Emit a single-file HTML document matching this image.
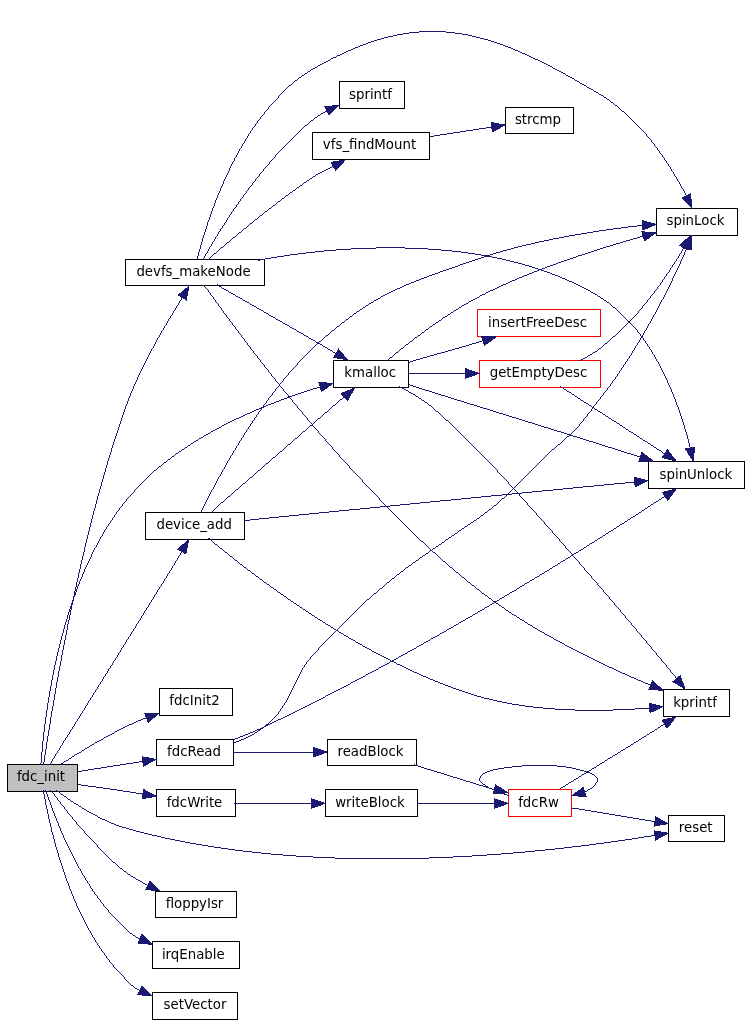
<!DOCTYPE html>
<html><head><meta charset="utf-8"><title>fdc_init call graph</title>
<style>html,body{margin:0;padding:0;background:#fff}svg{display:block;will-change:transform}</style></head>
<body>
<svg width="749" height="1024" viewBox="0 0 749 1024">
<rect width="749" height="1024" fill="#fff"/>
<g stroke-width="1" shape-rendering="crispEdges">
<rect x="7.5" y="764.5" width="70" height="27" fill="#bfbfbf" stroke="#000"/>
<rect x="125.5" y="259.5" width="139" height="26" fill="#fff" stroke="#000"/>
<rect x="339.5" y="81.5" width="65" height="27" fill="#fff" stroke="#000"/>
<rect x="312.5" y="132.5" width="117" height="27" fill="#fff" stroke="#000"/>
<rect x="505.5" y="107.5" width="68" height="26" fill="#fff" stroke="#000"/>
<rect x="656.5" y="208.5" width="81" height="27" fill="#fff" stroke="#000"/>
<rect x="333.5" y="360.5" width="75" height="27" fill="#fff" stroke="#000"/>
<rect x="477.5" y="309.5" width="123" height="27" fill="#fff" stroke="#ff0000"/>
<rect x="479.5" y="360.5" width="121" height="27" fill="#fff" stroke="#ff0000"/>
<rect x="648.5" y="461.5" width="96" height="27" fill="#fff" stroke="#000"/>
<rect x="145.5" y="512.5" width="99" height="27" fill="#fff" stroke="#000"/>
<rect x="663.5" y="689.5" width="66" height="27" fill="#fff" stroke="#000"/>
<rect x="159.5" y="688.5" width="73" height="27" fill="#fff" stroke="#000"/>
<rect x="156.5" y="739.5" width="77" height="26" fill="#fff" stroke="#000"/>
<rect x="327.5" y="739.5" width="89" height="26" fill="#fff" stroke="#000"/>
<rect x="156.5" y="789.5" width="79" height="27" fill="#fff" stroke="#000"/>
<rect x="325.5" y="789.5" width="92" height="27" fill="#fff" stroke="#000"/>
<rect x="508.5" y="789.5" width="63" height="27" fill="#fff" stroke="#ff0000"/>
<rect x="668.5" y="815.5" width="56" height="26" fill="#fff" stroke="#000"/>
<rect x="155.5" y="891.5" width="81" height="26" fill="#fff" stroke="#000"/>
<rect x="152.5" y="941.5" width="87" height="27" fill="#fff" stroke="#000"/>
<rect x="152.5" y="992.5" width="85" height="27" fill="#fff" stroke="#000"/>
</g>
<g fill="none" stroke="#191970" stroke-width="1" shape-rendering="crispEdges">
<path d="M43.5 762v3m1-10v7m1-13v6m1-13v7m1-13v6m1-12v6m1-12v6m1-13v7m1-13v6m1-11v5m1-11v6m1-12v6m1-12v6m1-12v6m1-11v5m1-11v6m1-11v5m1-10v5m1-11v6m1-11v5m1-10v5m1-10v5m1-10v5m1-10v5m1-11v6m1-10v4m1-9v5m1-10v5m1-10v5m1-9v4m1-9v5m1-10v5m1-9v4m1-9v5m1-9v4m1-9v5m1-9v4m1-9v5m1-9v4m1-8v4m1-8v4m1-9v5m1-9v4m1-8v4m1-8v4m1-8v4m1-8v4m1-8v4m1-8v4m1-8v4m1-8v4m1-7v3m1-7v4m1-8v4m1-8v4m1-7v3m1-7v4m1-7v3m1-7v4m1-7v3m1-7v4m1-7v3m1-7v4m1-7v3m1-7v4m1-7v3m1-6v3m1-6v3m1-7v4m1-7v3m1-6v3m1-6v3m1-6v3m1-6v3m1-6v3m1-6v3m1-6v3m1-6v3m1-6v3m1-6v3m1-6v3m1-6v3m1-6v3m1-5v2m1-5v3m1-6v3m1-5v2m1-5v3m1-5v2m1-4v2m1-5v3m1-5v2m1-4v2m1-4v2m1-5v3m1-5v2m1-4v2m1-4v2m1-4v2m1-4v2m1-4v2m1-4v2m1-4v2m1-4v2m1-4v2m1-4v2m1-4v2m1-4v2m1-4v2m.5-2.5h1m.5-2.5v2m1-4v2m1-4v2m1-4v2m1-4v2m.5-2.5h1m.5-2.5v2m1-4v2m1-4v2m.5-2.5h1m.5-2.5v2m1-4v2m.5-2.5h1m.5-2.5v2m1-4v2m1-4v2m.5-2.5h1m.5-2.5v2m.5-2.5h1m.5-2.5v2m1-4v2m.5-2.5h1m.5-2.5v2m1-4v2m.5-2.5h1m.5-2.5v2m1-4v2m.5-2.5h1m.5-2.5v2m.5-2.5h1"/>
<path d="M40.5 763v2m1-13v11m1-22v11m1-20v9m1-17v8m1-15v7m1-14v7m1-14v7m1-13v6m1-12v6m1-11v5m1-11v6m1-11v5m1-10v5m1-10v5m1-9v4m1-9v5m1-9v4m1-8v4m1-8v4m1-8v4m1-8v4m1-7v3m1-7v4m1-8v4m1-7v3m1-6v3m1-7v4m1-7v3m1-6v3m1-6v3m1-6v3m1-6v3m1-6v3m1-5v2m1-5v3m1-6v3m1-6v3m1-5v2m1-5v3m1-5v2m1-4v2m1-5v3m1-5v2m1-5v3m1-5v2m1-4v2m1-4v2m1-4v2m1-4v2m1-4v2m1-5v3m1-5v2m1-4v2m1-4v2m.5-2.5h1m.5-2.5v2m1-4v2m1-4v2m1-4v2m1-4v2m.5-2.5h1m.5-2.5v2m1-4v2m1-4v2m.5-2.5h1m.5-2.5v2m.5-2.5h1m.5-2.5v2m.5-2.5h1m.5-2.5v2m.5-2.5h1m.5-2.5v2m.5-2.5h1m.5-2.5v2m.5-2.5h1m.5-2.5v2m.5-2.5h1m0-1h1m.5-2.5v2m.5-2.5h1m0-1h1m.5-2.5v2m.5-2.5h1m0-1h1m0-1h1m.5-2.5v2m.5-2.5h1m0-1h1m0-1h1m0-1h1m0-1h1m0-1h1m0-1h1m.5-2.5v2m.5-2.5h1m0-1h1m0-1h1m0-1h1m0-1h1m0-1h1m0-1h1m0-1h1m0-1h1m0-1h1m0-1h1m0-1h1m0-1h1m0-1h1m0-1h1m0-1h1m0-1h1m0-1h1m0-1h1m0-1h2m0-1h1m0-1h1m0-1h1m0-1h2m0-1h1m0-1h1m0-1h1m0-1h2m0-1h1m0-1h1m0-1h2m0-1h1m0-1h1m0-1h2m0-1h1m0-1h1m0-1h2m0-1h1m0-1h2m0-1h1m0-1h2m0-1h1m0-1h2m0-1h1m0-1h2m0-1h1m0-1h2m0-1h1m0-1h2m0-1h2m0-1h1m0-1h2m0-1h2m0-1h1m0-1h2m0-1h2m0-1h2m0-1h1m0-1h2m0-1h2m0-1h2m0-1h2m0-1h2m0-1h1m0-1h2m0-1h2m0-1h2m0-1h2m0-1h2m0-1h2m0-1h2m0-1h3m0-1h2m0-1h2m0-1h2m0-1h2m0-1h3m0-1h2m0-1h2m0-1h2m0-1h3m0-1h2m0-1h3m0-1h2m0-1h2m0-1h3m0-1h3m0-1h2m0-1h3m0-1h2m0-1h3m0-1h3m0-1h2m0-1h3m0-1h3m0-1h3m0-1h3m0-1h3m0-1h3m0-1h3m0-1h3m0-1h4m0-1h4"/>
<path d="M49 764.5h1m0-1h1m.5-2.5v2m1-4v2m.5-2.5h1m.5-2.5v2m1-4v2m.5-2.5h1m.5-2.5v2m.5-2.5h1m.5-2.5v2m1-4v2m.5-2.5h1m.5-2.5v2m1-4v2m.5-2.5h1m.5-2.5v2m.5-2.5h1m.5-2.5v2m.5-2.5h1m.5-2.5v2m1-4v2m.5-2.5h1m.5-2.5v2m.5-2.5h1m.5-2.5v2m1-4v2m.5-2.5h1m.5-2.5v2m.5-2.5h1m.5-2.5v2m1-4v2m.5-2.5h1m.5-2.5v2m.5-2.5h1m.5-2.5v2m1-4v2m.5-2.5h1m.5-2.5v2m1-4v2m.5-2.5h1m.5-2.5v2m.5-2.5h1m.5-2.5v2m1-4v2m.5-2.5h1m.5-2.5v2m.5-2.5h1m.5-2.5v2m1-4v2m.5-2.5h1m.5-2.5v2m.5-2.5h1m.5-2.5v2m1-4v2m.5-2.5h1m.5-2.5v2m.5-2.5h1m.5-2.5v2m1-4v2m.5-2.5h1m.5-2.5v2m.5-2.5h1m.5-2.5v2m1-4v2m.5-2.5h1m.5-2.5v2m.5-2.5h1m.5-2.5v2m1-4v2m.5-2.5h1m.5-2.5v2m1-4v2m.5-2.5h1m.5-2.5v2m.5-2.5h1m.5-2.5v2m1-4v2m.5-2.5h1m.5-2.5v2m.5-2.5h1m.5-2.5v2m1-4v2m.5-2.5h1m.5-2.5v2m.5-2.5h1m.5-2.5v2m1-4v2m.5-2.5h1m.5-2.5v2m.5-2.5h1m.5-2.5v2m1-4v2m.5-2.5h1m.5-2.5v2m1-4v2m.5-2.5h1m.5-2.5v2m.5-2.5h1m.5-2.5v2m1-4v2m.5-2.5h1m.5-2.5v2m.5-2.5h1m.5-2.5v2m1-4v2m.5-2.5h1m.5-2.5v2m1-4v2m.5-2.5h1m.5-2.5v2m.5-2.5h1m.5-2.5v2m.5-2.5h1m.5-2.5v2m1-4v2m.5-2.5h1m.5-2.5v2m1-4v2m.5-2.5h1m.5-2.5v2m.5-2.5h1m.5-2.5v2m1-4v2m.5-2.5h1m.5-2.5v2m1-4v2m.5-2.5h1m.5-2.5v2m1-4v2m.5-2.5h1m.5-2.5v2m1-4v2"/>
<path d="M60 764.5h1m0-1h2m0-1h1m0-1h2m0-1h2m0-1h1m0-1h2m0-1h1m0-1h2m0-1h1m0-1h2m0-1h2m0-1h2m0-1h1m0-1h2m0-1h1m0-1h2m0-1h2m0-1h1m0-1h2m0-1h2m0-1h1m0-1h2m0-1h2m0-1h2m0-1h2m0-1h1m0-1h2m0-1h2m0-1h2m0-1h2m0-1h2m0-1h1m0-1h2m0-1h2m0-1h2m0-1h2m0-1h2m0-1h2m0-1h2m0-1h3m0-1h2m0-1h2m0-1h2m0-1h3m0-1h2m0-1h4"/>
<path d="M78 771.5h4m0-1h6m0-1h6m0-1h7m0-1h6m0-1h6m0-1h7m0-1h6m0-1h7m0-1h6m0-1h4"/>
<path d="M56 790.5h1m0 1h2m0 1h1m0 1h1m0 1h2m0 1h1m0 1h2m0 1h1m0 1h1m0 1h2m0 1h1m0 1h2m0 1h1m0 1h2m0 1h2m0 1h1m0 1h2m0 1h1m0 1h2m0 1h2m0 1h1m0 1h2m0 1h2m0 1h2m0 1h2m0 1h2m0 1h1m0 1h2m0 1h2m0 1h3m0 1h2m0 1h2m0 1h2m0 1h3m0 1h2m0 1h3m0 1h3m0 1h4m0 1h3m0 1h4m0 1h3m0 1h4m0 1h4m0 1h4m0 1h4m0 1h5m0 1h4m0 1h4m0 1h5m0 1h5m0 1h5m0 1h5m0 1h5m0 1h6m0 1h6m0 1h6m0 1h6m0 1h7m0 1h7m0 1h7m0 1h8m0 1h9m0 1h9m0 1h10m0 1h12m0 1h13m0 1h17m0 1h22m0 1h94m0-1h24m0-1h19m0-1h15m0-1h14m0-1h12m0-1h12m0-1h10m0-1h10m0-1h10m0-1h9m0-1h8m0-1h9m0-1h8m0-1h7m0-1h8m0-1h7m0-1h7m0-1h7m0-1h7m0-1h6m0-1h6m0-1h7m0-1h4"/>
<path d="M78 784.5h3m0 1h7m0 1h8m0 1h7m0 1h7m0 1h7m0 1h6m0 1h7m0 1h6m0 1h6m0 1h1"/>
<path d="M50 790.5h1m0 1h1m0 1h1m0 1h1m.5 .5v2m.5 .5h1m0 1h1m.5 .5v2m.5 .5h1m0 1h1m.5 .5v2m.5 .5h1m0 1h1m0 1h1m.5 .5v2m.5 .5h1m0 1h1m.5 .5v2m.5 .5h1m0 1h1m0 1h1m0 1h1m.5 .5v2m.5 .5h1m0 1h1m0 1h1m.5 .5v2m.5 .5h1m0 1h1m0 1h1m0 1h1m0 1h1m0 1h1m0 1h1m.5 .5v2m.5 .5h1m0 1h1m0 1h1m0 1h1m0 1h1m0 1h1m0 1h1m0 1h1m0 1h1m0 1h1m0 1h1m0 1h1m.5 .5v2m.5 .5h1m0 1h1m0 1h1m0 1h1m0 1h1m0 1h1m0 1h1m0 1h1m0 1h1m0 1h1m0 1h1m0 1h1m0 1h1m0 1h1m0 1h1m0 1h2m0 1h1m0 1h1m0 1h1m0 1h1m0 1h1m0 1h2m0 1h1m0 1h1m0 1h2m0 1h1m0 1h1m0 1h2m0 1h1m0 1h2m0 1h2m0 1h1m0 1h2m0 1h2m0 1h2m0 1h1m0 1h2m0 1h2m0 1h1"/>
<path d="M45 790.5h1m.5 .5v3m1 0v3m1 0v3m1 0v2m1 0v3m1 0v3m1 0v3m1 0v2m1 0v3m1 0v2m1 0v3m1 0v2m1 0v3m1 0v2m1 0v3m1 0v2m1 0v2m1 0v3m1 0v2m1 0v2m1 0v2m1 0v2m1 0v2m1 0v2m1 0v2m1 0v2m1 0v2m1 0v2m1 0v2m1 0v2m1 0v2m1 0v2m1 0v2m.5 .5h1m.5 .5v2m1 0v2m1 0v2m.5 .5h1m.5 .5v2m1 0v2m.5 .5h1m.5 .5v2m.5 .5h1m.5 .5v2m1 0v2m.5 .5h1m.5 .5v2m.5 .5h1m.5 .5v2m.5 .5h1m0 1h1m.5 .5v2m.5 .5h1m0 1h1m.5 .5v2m.5 .5h1m0 1h1m.5 .5v2m.5 .5h1m0 1h1m0 1h1m0 1h1m.5 .5v2m.5 .5h1m0 1h1m0 1h1m0 1h1m0 1h1m0 1h1m0 1h1m0 1h1m0 1h1m0 1h1m0 1h1m0 1h1m0 1h1m0 1h1m0 1h1m0 1h1m0 1h1m0 1h1m0 1h1m0 1h1m0 1h1m0 1h2m0 1h1m0 1h2m0 1h1m0 1h2m0 1h2"/>
<path d="M43.5 790v4m1 0v5m1 0v6m1 0v4m1 0v5m1 0v5m1 0v4m1 0v4m1 0v5m1 0v3m1 0v4m1 0v4m1 0v4m1 0v3m1 0v3m1 0v4m1 0v3m1 0v3m1 0v3m1 0v3m1 0v3m1 0v3m1 0v3m1 0v3m1 0v2m1 0v3m1 0v3m1 0v2m1 0v3m1 0v2m1 0v3m1 0v2m1 0v2m1 0v3m1 0v2m1 0v2m1 0v2m1 0v2m1 0v2m1 0v2m1 0v2m1 0v2m1 0v2m1 0v2m1 0v2m1 0v2m.5 .5h1m.5 .5v2m1 0v2m1 0v2m.5 .5h1m.5 .5v2m1 0v2m.5 .5h1m.5 .5v2m.5 .5h1m.5 .5v2m.5 .5h1m.5 .5v2m.5 .5h1m0 1h1m.5 .5v2m.5 .5h1m.5 .5v2m.5 .5h1m0 1h1m.5 .5v2m.5 .5h1m0 1h1m0 1h1m.5 .5v2m.5 .5h1m0 1h1m0 1h1m0 1h1m0 1h1m0 1h1m0 1h1m0 1h1m0 1h1m0 1h1m.5 .5v2m.5 .5h1m0 1h1m0 1h1m0 1h1m0 1h1m0 1h1m0 1h2m0 1h1m0 1h1m0 1h2m0 1h2m0 1h1"/>
<path d="M217 284.5h1m0 1h1m0 1h2m0 1h1m0 1h2m0 1h2m0 1h2m0 1h1m0 1h2m0 1h2m0 1h2m0 1h1m0 1h2m0 1h2m0 1h2m0 1h1m0 1h2m0 1h2m0 1h2m0 1h1m0 1h2m0 1h2m0 1h2m0 1h1m0 1h2m0 1h2m0 1h2m0 1h1m0 1h2m0 1h2m0 1h1m0 1h2m0 1h2m0 1h2m0 1h1m0 1h2m0 1h2m0 1h2m0 1h1m0 1h2m0 1h2m0 1h2m0 1h1m0 1h2m0 1h2m0 1h2m0 1h1m0 1h2m0 1h2m0 1h2m0 1h1m0 1h2m0 1h2m0 1h1m0 1h2m0 1h2m0 1h2m0 1h1m0 1h2m0 1h2m0 1h2m0 1h1m0 1h2m0 1h2m0 1h1m0 1h2m0 1h2m0 1h1m0 1h2m0 1h1"/>
<path d="M197.5 256v3m1-7v4m1-7v3m1-7v4m1-7v3m1-7v4m1-7v3m1-6v3m1-6v3m1-6v3m1-7v4m1-6v2m1-5v3m1-6v3m1-6v3m1-6v3m1-5v2m1-5v3m1-6v3m1-5v2m1-5v3m1-5v2m1-4v2m1-5v3m1-5v2m1-4v2m1-5v3m1-5v2m1-4v2m1-4v2m1-4v2m1-4v2m1-5v3m1-5v2m1-4v2m1-4v2m.5-2.5h1m.5-3.5v3m.5-3.5h1m.5-2.5v2m1-4v2m1-4v2m1-4v2m.5-2.5h1m.5-2.5v2m1-4v2m.5-2.5h1m.5-2.5v2m1-4v2m.5-2.5h1m.5-2.5v2m1-4v2m.5-2.5h1m.5-2.5v2m.5-2.5h1m.5-2.5v2m.5-2.5h1m0-1h1m.5-2.5v2m.5-2.5h1m.5-2.5v2m.5-2.5h1m0-1h1m.5-2.5v2m.5-2.5h1m0-1h1m0-1h1m.5-2.5v2m.5-2.5h1m0-1h1m0-1h1m.5-2.5v2m.5-2.5h1m0-1h1m0-1h1m0-1h1m0-1h1m0-1h1m0-1h1m0-1h1m0-1h1m.5-2.5v2m.5-2.5h1m0-1h1m0-1h1m0-1h1m0-1h1m0-1h1m0-1h1m0-1h1m0-1h1m0-1h1m0-1h2m0-1h1m0-1h1m0-1h1m0-1h1m0-1h2m0-1h1m0-1h1m0-1h2m0-1h1m0-1h2m0-1h1m0-1h2m0-1h1m0-1h2m0-1h1m0-1h2m0-1h2m0-1h2m0-1h1m0-1h2m0-1h2m0-1h2m0-1h2m0-1h2m0-1h2m0-1h1m0-1h2m0-1h3m0-1h1m0-1h3m0-1h2m0-1h2m0-1h2m0-1h2m0-1h3m0-1h2m0-1h2m0-1h3m0-1h2m0-1h3m0-1h3m0-1h2m0-1h3m0-1h3m0-1h3m0-1h4m0-1h3m0-1h4m0-1h5m0-1h4m0-1h6m0-1h6m0-1h10m0-1h27m0 1h9m0 1h7m0 1h6m0 1h4m0 1h4m0 1h4m0 1h4m0 1h4m0 1h3m0 1h3m0 1h3m0 1h3m0 1h3m0 1h2m0 1h3m0 1h3m0 1h2m0 1h2m0 1h3m0 1h2m0 1h2m0 1h3m0 1h2m0 1h2m0 1h2m0 1h2m0 1h2m0 1h3m0 1h2m0 1h2m0 1h2m0 1h2m0 1h2m0 1h2m0 1h2m0 1h1m0 1h2m0 1h2m0 1h2m0 1h2m0 1h2m0 1h2m0 1h1m0 1h2m0 1h2m0 1h2m0 1h2m0 1h1m0 1h2m0 1h2m0 1h1m0 1h2m0 1h2m0 1h2m0 1h1m0 1h2m0 1h2m0 1h2m0 1h1m0 1h2m0 1h2m0 1h1m0 1h2m0 1h2m0 1h1m0 1h2m0 1h1m0 1h2m0 1h1m0 1h1m0 1h2m0 1h1m0 1h1m0 1h2m0 1h1m0 1h1m0 1h1m0 1h1m0 1h1m0 1h2m0 1h1m0 1h1m0 1h1m0 1h1m0 1h1m0 1h1m0 1h1m0 1h1m0 1h1m0 1h1m0 1h1m0 1h1m0 1h1m0 1h1m0 1h1m0 1h1m0 1h1m0 1h1m0 1h1m0 1h1m0 1h1m0 1h1m.5 .5v2m.5 .5h1m0 1h1m0 1h1m0 1h1m.5 .5v2m.5 .5h1m0 1h1m.5 .5v2m.5 .5h1m0 1h1m.5 .5v2m.5 .5h1m.5 .5v2m.5 .5h1m0 1h1m.5 .5v2m.5 .5h1m.5 .5v2m.5 .5h1m.5 .5v2m.5 .5h1m.5 .5v2m.5 .5h1m.5 .5v2m1 0v2m.5 .5h1m.5 .5v2m1 0v2m.5 .5h1m.5 .5v2m1 0v2m.5 .5h1m.5 .5v2m1 0v2m1 0v2m.5 .5h1m.5 .5v2m1 0v2m1 0v2m.5 .5h1"/>
<path d="M258 260.5h2m0-1h5m0-1h6m0-1h6m0-1h7m0-1h6m0-1h8m0-1h8m0-1h9m0-1h9m0-1h12m0-1h15m0-1h25m0-1h29m0 1h23m0 1h13m0 1h11m0 1h9m0 1h7m0 1h7m0 1h6m0 1h6m0 1h5m0 1h5m0 1h5m0 1h4m0 1h4m0 1h4m0 1h4m0 1h4m0 1h3m0 1h4m0 1h3m0 1h3m0 1h3m0 1h3m0 1h3m0 1h3m0 1h3m0 1h2m0 1h3m0 1h3m0 1h2m0 1h2m0 1h3m0 1h2m0 1h2m0 1h3m0 1h2m0 1h2m0 1h2m0 1h2m0 1h2m0 1h2m0 1h2m0 1h2m0 1h2m0 1h1m0 1h2m0 1h2m0 1h2m0 1h1m0 1h2m0 1h1m0 1h2m0 1h1m0 1h2m0 1h1m0 1h2m0 1h1m0 1h1m0 1h1m0 1h1m0 1h2m0 1h1m0 1h1m0 1h1m0 1h1m0 1h1m0 1h1m0 1h1m0 1h1m0 1h1m0 1h1m0 1h1m0 1h1m0 1h1m0 1h1m0 1h1m0 1h1m0 1h1m0 1h1m0 1h1m0 1h1m0 1h1m0 1h1m.5 .5v2m.5 .5h1m0 1h1m.5 .5v2m.5 .5h1m0 1h1m.5 .5v2m.5 .5h1m.5 .5v2m.5 .5h1m.5 .5v2m.5 .5h1m.5 .5v2m.5 .5h1m.5 .5v2m1 0v2m.5 .5h1m.5 .5v2m1 0v2m1 0v2m.5 .5h1m.5 .5v2m1 0v2m1 0v2m1 0v2m1 0v2m1 0v2m1 0v2m1 0v2m1 0v2m1 0v3m1 0v2m1 0v2m1 0v2m1 0v3m1 0v2m1 0v3m1 0v2m1 0v3m1 0v3m1 0v2m1 0v3m1 0v3m1 0v3m1 0v3m1 0v3m1 0v3m1 0v4m1 0v3m1 0v3m1 0v4m1 0v4m1 0v4m1 0v2"/>
<path d="M203 285.5h1m0 1h1m0 1h1m0 1h1m0 1h1m.5 .5v2m.5 .5h1m.5 .5v2m.5 .5h1m0 1h1m.5 .5v2m.5 .5h1m.5 .5v2m.5 .5h1m0 1h1m.5 .5v2m.5 .5h1m0 1h1m.5 .5v2m.5 .5h1m.5 .5v2m.5 .5h1m0 1h1m.5 .5v2m.5 .5h1m0 1h1m.5 .5v2m.5 .5h1m0 1h1m.5 .5v2m.5 .5h1m0 1h1m.5 .5v2m.5 .5h1m0 1h1m.5 .5v2m.5 .5h1m0 1h1m.5 .5v2m.5 .5h1m0 1h1m.5 .5v2m.5 .5h1m0 1h1m.5 .5v2m.5 .5h1m0 1h1m.5 .5v2m.5 .5h1m0 1h1m.5 .5v2m.5 .5h1m0 1h1m0 1h1m.5 .5v2m.5 .5h1m0 1h1m.5 .5v2m.5 .5h1m0 1h1m0 1h1m.5 .5v2m.5 .5h1m0 1h1m0 1h1m.5 .5v2m.5 .5h1m0 1h1m.5 .5v2m.5 .5h1m0 1h1m0 1h1m.5 .5v2m.5 .5h1m0 1h1m0 1h1m.5 .5v2m.5 .5h1m0 1h1m0 1h1m.5 .5v2m.5 .5h1m0 1h1m0 1h1m0 1h1m.5 .5v2m.5 .5h1m0 1h1m0 1h1m.5 .5v2m.5 .5h1m0 1h1m0 1h1m0 1h1m.5 .5v2m.5 .5h1m0 1h1m0 1h1m0 1h1m.5 .5v2m.5 .5h1m0 1h1m0 1h1m0 1h1m.5 .5v2m.5 .5h1m0 1h1m0 1h1m0 1h1m.5 .5v2m.5 .5h1m0 1h1m0 1h1m0 1h1m0 1h1m.5 .5v2m.5 .5h1m0 1h1m0 1h1m0 1h1m0 1h1m0 1h1m.5 .5v2m.5 .5h1m0 1h1m0 1h1m0 1h1m0 1h1m0 1h1m.5 .5v2m.5 .5h1m0 1h1m0 1h1m0 1h1m0 1h1m0 1h1m.5 .5v2m.5 .5h1m0 1h1m0 1h1m0 1h1m0 1h1m0 1h1m0 1h1m0 1h1m0 1h1m.5 .5v2m.5 .5h1m0 1h1m0 1h1m0 1h1m0 1h1m0 1h1m0 1h1m0 1h1m0 1h1m0 1h1m0 1h1m0 1h1m.5 .5v2m.5 .5h1m0 1h1m0 1h1m0 1h1m0 1h1m0 1h1m0 1h1m0 1h1m0 1h1m0 1h1m0 1h1m0 1h1m0 1h1m0 1h1m0 1h1m0 1h1m.5 .5v2m.5 .5h1m0 1h1m0 1h1m0 1h1m0 1h1m0 1h1m0 1h1m0 1h1m0 1h1m0 1h1m0 1h1m0 1h1m0 1h1m0 1h1m0 1h1m0 1h1m0 1h1m0 1h1m0 1h1m0 1h1m0 1h1m0 1h1m0 1h1m0 1h1m0 1h1m0 1h1m0 1h1m0 1h1m0 1h1m0 1h1m0 1h1m0 1h1m0 1h1m0 1h1m0 1h1m0 1h1m0 1h1m0 1h1m0 1h1m0 1h1m0 1h1m0 1h2m0 1h1m0 1h1m0 1h1m0 1h1m0 1h1m0 1h1m0 1h1m0 1h1m0 1h1m0 1h1m0 1h2m0 1h1m0 1h1m0 1h1m0 1h1m0 1h1m0 1h1m0 1h1m0 1h1m0 1h2m0 1h1m0 1h1m0 1h1m0 1h1m0 1h1m0 1h2m0 1h1m0 1h1m0 1h1m0 1h1m0 1h2m0 1h1m0 1h1m0 1h1m0 1h1m0 1h2m0 1h1m0 1h1m0 1h1m0 1h1m0 1h2m0 1h1m0 1h1m0 1h2m0 1h1m0 1h1m0 1h1m0 1h2m0 1h1m0 1h1m0 1h1m0 1h2m0 1h1m0 1h2m0 1h1m0 1h1m0 1h2m0 1h1m0 1h1m0 1h2m0 1h1m0 1h2m0 1h1m0 1h2m0 1h1m0 1h2m0 1h1m0 1h1m0 1h2m0 1h1m0 1h2m0 1h1m0 1h2m0 1h2m0 1h1m0 1h2m0 1h1m0 1h2m0 1h2m0 1h1m0 1h2m0 1h1m0 1h2m0 1h2m0 1h1m0 1h2m0 1h2m0 1h1m0 1h2m0 1h2m0 1h2m0 1h1m0 1h2m0 1h2m0 1h2m0 1h2m0 1h1m0 1h2m0 1h2m0 1h2m0 1h2m0 1h2m0 1h1m0 1h2m0 1h2m0 1h2m0 1h2m0 1h2m0 1h2m0 1h2m0 1h2m0 1h2m0 1h2m0 1h2m0 1h2m0 1h2m0 1h2m0 1h2m0 1h2m0 1h2m0 1h2m0 1h2m0 1h2m0 1h2m0 1h2m0 1h3m0 1h2m0 1h2m0 1h2m0 1h2m0 1h2m0 1h3m0 1h2m0 1h2m0 1h2m0 1h3m0 1h2m0 1h2m0 1h3m0 1h2m0 1h2m0 1h3m0 1h3"/>
<path d="M202 259.5h1m0-1h1m.5-2.5v2m1-4v2m.5-2.5h1m.5-2.5v2m1-4v2m1-4v2m.5-2.5h1m.5-2.5v2m1-4v2m.5-2.5h1m.5-2.5v2m1-4v2m.5-2.5h1m.5-2.5v2m1-4v2m.5-2.5h1m.5-2.5v2m.5-2.5h1m.5-2.5v2m.5-2.5h1m.5-2.5v2m.5-2.5h1m.5-2.5v2m1-4v2m.5-2.5h1m.5-2.5v2m.5-2.5h1m.5-2.5v2m.5-2.5h1m.5-2.5v2m.5-2.5h1m0-1h1m.5-2.5v2m.5-2.5h1m.5-2.5v2m.5-2.5h1m.5-2.5v2m.5-2.5h1m0-1h1m.5-2.5v2m.5-2.5h1m0-1h1m.5-2.5v2m.5-2.5h1m.5-2.5v2m.5-2.5h1m0-1h1m0-1h1m.5-2.5v2m.5-2.5h1m0-1h1m.5-2.5v2m.5-2.5h1m0-1h1m0-1h1m.5-2.5v2m.5-2.5h1m0-1h1m0-1h1m.5-2.5v2m.5-2.5h1m0-1h1m0-1h1m0-1h1m0-1h1m.5-2.5v2m.5-2.5h1m0-1h1m0-1h1m0-1h1m0-1h1m.5-2.5v2m.5-2.5h1m0-1h1m0-1h1m0-1h1m0-1h1m0-1h1m0-1h1m0-1h1m0-1h1m0-1h1m0-1h1m0-1h1m0-1h1m0-1h1m0-1h1m0-1h1m0-1h1m0-1h1m0-1h1m0-1h1m0-1h1m0-1h1m0-1h1m0-1h1m0-1h1m0-1h1m0-1h1m0-1h1m0-1h1m0-1h2m0-1h1m0-1h1m0-1h1m0-1h1m0-1h2m0-1h1m0-1h1m0-1h2m0-1h1m0-1h2m0-1h1m0-1h2m0-1h2m0-1h2"/>
<path d="M208 259.5h1m0-1h1m0-1h1m0-1h1m0-1h1m0-1h1m0-1h2m0-1h1m0-1h1m0-1h1m0-1h1m0-1h1m0-1h2m0-1h1m0-1h1m0-1h1m0-1h1m0-1h2m0-1h1m0-1h1m0-1h1m0-1h1m0-1h2m0-1h1m0-1h1m0-1h1m0-1h1m0-1h2m0-1h1m0-1h1m0-1h1m0-1h2m0-1h1m0-1h1m0-1h1m0-1h1m0-1h2m0-1h1m0-1h1m0-1h1m0-1h2m0-1h1m0-1h1m0-1h1m0-1h2m0-1h1m0-1h1m0-1h1m0-1h2m0-1h1m0-1h1m0-1h2m0-1h1m0-1h1m0-1h2m0-1h1m0-1h1m0-1h1m0-1h2m0-1h1m0-1h1m0-1h2m0-1h1m0-1h1m0-1h2m0-1h1m0-1h1m0-1h2m0-1h1m0-1h2m0-1h1m0-1h1m0-1h2m0-1h1m0-1h2m0-1h1m0-1h1m0-1h2m0-1h1m0-1h2m0-1h1m0-1h2m0-1h1m0-1h2m0-1h1m0-1h2m0-1h2m0-1h2m0-1h2m0-1h2m0-1h2m0-1h2m0-1h2m0-1h2"/>
<path d="M409 373.5h57"/>
<path d="M387 360.5h1m0-1h1m0-1h1m0-1h2m0-1h1m0-1h1m0-1h1m0-1h1m0-1h2m0-1h1m0-1h1m0-1h1m0-1h2m0-1h1m0-1h1m0-1h1m0-1h2m0-1h1m0-1h1m0-1h2m0-1h1m0-1h1m0-1h1m0-1h2m0-1h1m0-1h2m0-1h1m0-1h1m0-1h2m0-1h1m0-1h1m0-1h2m0-1h1m0-1h1m0-1h2m0-1h1m0-1h2m0-1h1m0-1h2m0-1h1m0-1h2m0-1h1m0-1h1m0-1h2m0-1h2m0-1h1m0-1h2m0-1h1m0-1h2m0-1h1m0-1h2m0-1h2m0-1h1m0-1h2m0-1h1m0-1h2m0-1h2m0-1h2m0-1h1m0-1h2m0-1h2m0-1h2m0-1h2m0-1h2m0-1h1m0-1h2m0-1h3m0-1h1m0-1h2m0-1h2m0-1h3m0-1h2m0-1h2m0-1h2m0-1h2m0-1h2m0-1h3m0-1h2m0-1h2m0-1h2m0-1h3m0-1h2m0-1h2m0-1h3m0-1h2m0-1h3m0-1h2m0-1h3m0-1h2m0-1h3m0-1h2m0-1h3m0-1h3m0-1h2m0-1h3m0-1h3m0-1h3m0-1h2m0-1h3m0-1h3m0-1h3m0-1h3m0-1h3m0-1h3m0-1h2m0-1h4m0-1h3m0-1h3m0-1h3m0-1h3m0-1h3m0-1h3m0-1h3m0-1h3m0-1h4m0-1h3m0-1h3m0-1h4m0-1h3m0-1h3m0-1h4m0-1h3m0-1h4m0-1h3m0-1h3"/>
<path d="M409 384.5h1m0 1h3m0 1h3m0 1h3m0 1h3m0 1h3m0 1h4m0 1h3m0 1h3m0 1h3m0 1h3m0 1h4m0 1h3m0 1h3m0 1h3m0 1h3m0 1h4m0 1h3m0 1h3m0 1h3m0 1h4m0 1h3m0 1h3m0 1h3m0 1h4m0 1h3m0 1h3m0 1h3m0 1h3m0 1h4m0 1h3m0 1h3m0 1h3m0 1h4m0 1h3m0 1h3m0 1h3m0 1h3m0 1h4m0 1h3m0 1h3m0 1h3m0 1h3m0 1h4m0 1h3m0 1h3m0 1h3m0 1h4m0 1h3m0 1h3m0 1h3m0 1h3m0 1h4m0 1h3m0 1h3m0 1h3m0 1h3m0 1h4m0 1h3m0 1h3m0 1h3m0 1h3m0 1h3m0 1h4m0 1h3m0 1h3m0 1h3m0 1h3m0 1h3m0 1h4m0 1h3m0 1h3m0 1h4"/>
<path d="M409 362.5h1m0-1h3m0-1h3m0-1h4m0-1h3m0-1h4m0-1h3m0-1h4m0-1h3m0-1h4m0-1h4m0-1h3m0-1h4m0-1h3m0-1h4m0-1h3m0-1h4m0-1h3m0-1h3m0-1h4m0-1h3m0-1h3m0-1h2"/>
<path d="M399 386.5h1m0 1h2m0 1h2m0 1h2m0 1h2m0 1h1m0 1h2m0 1h2m0 1h2m0 1h1m0 1h2m0 1h1m0 1h2m0 1h1m0 1h2m0 1h1m0 1h2m0 1h1m0 1h1m0 1h2m0 1h1m0 1h1m0 1h1m0 1h1m0 1h1m0 1h2m0 1h1m0 1h1m0 1h1m0 1h1m0 1h1m0 1h1m0 1h1m0 1h1m0 1h2m0 1h1m0 1h1m0 1h1m0 1h1m0 1h1m0 1h1m0 1h1m0 1h1m0 1h1m0 1h1m0 1h1m0 1h1m0 1h1m0 1h1m0 1h1m0 1h1m0 1h1m0 1h1m0 1h1m0 1h1m0 1h1m0 1h1m0 1h1m0 1h1m0 1h1m0 1h1m0 1h1m0 1h1m0 1h1m0 1h1m0 1h1m0 1h1m0 1h1m0 1h1m0 1h1m0 1h1m0 1h1m0 1h1m0 1h1m0 1h1m0 1h1m0 1h1m0 1h1m0 1h1m0 1h1m0 1h1m0 1h1m0 1h1m0 1h1m.5 .5v2m.5 .5h1m0 1h1m0 1h1m0 1h1m0 1h1m0 1h1m0 1h1m0 1h1m0 1h1m0 1h1m.5 .5v2m.5 .5h1m0 1h1m0 1h1m0 1h1m0 1h1m0 1h1m0 1h1m0 1h1m0 1h1m0 1h1m.5 .5v2m.5 .5h1m0 1h1m0 1h1m0 1h1m0 1h1m0 1h1m0 1h1m.5 .5v2m.5 .5h1m0 1h1m0 1h1m0 1h1m0 1h1m0 1h1m0 1h1m0 1h1m.5 .5v2m.5 .5h1m0 1h1m0 1h1m0 1h1m0 1h1m0 1h1m0 1h1m.5 .5v2m.5 .5h1m0 1h1m0 1h1m0 1h1m0 1h1m0 1h1m0 1h1m.5 .5v2m.5 .5h1m0 1h1m0 1h1m0 1h1m0 1h1m0 1h1m.5 .5v2m.5 .5h1m0 1h1m0 1h1m0 1h1m0 1h1m.5 .5v2m.5 .5h1m0 1h1m0 1h1m0 1h1m0 1h1m0 1h1m.5 .5v2m.5 .5h1m0 1h1m0 1h1m0 1h1m0 1h1m0 1h1m.5 .5v2m.5 .5h1m0 1h1m0 1h1m0 1h1m.5 .5v2m.5 .5h1m0 1h1m0 1h1m0 1h1m0 1h1m0 1h1m.5 .5v2m.5 .5h1m0 1h1m0 1h1m0 1h1m0 1h1m.5 .5v2m.5 .5h1m0 1h1m0 1h1m0 1h1m0 1h1m.5 .5v2m.5 .5h1m0 1h1m0 1h1m0 1h1m0 1h1m.5 .5v2m.5 .5h1m0 1h1m0 1h1m0 1h1m.5 .5v2m.5 .5h1m0 1h1m0 1h1m0 1h1m0 1h1m.5 .5v2m.5 .5h1m0 1h1m0 1h1m0 1h1m.5 .5v2m.5 .5h1m0 1h1m0 1h1m0 1h1m0 1h1m.5 .5v2m.5 .5h1m0 1h1m0 1h1m0 1h1m.5 .5v2m.5 .5h1m0 1h1m0 1h1m0 1h1m.5 .5v2m.5 .5h1m0 1h1m0 1h1m0 1h1m.5 .5v2m.5 .5h1m0 1h1m0 1h1m0 1h1m.5 .5v2m.5 .5h1m0 1h1m0 1h1m0 1h1m.5 .5v2m.5 .5h1m0 1h1m0 1h1m0 1h1m.5 .5v2m.5 .5h1m0 1h1m0 1h1m0 1h1m.5 .5v2m.5 .5h1m0 1h1m0 1h1m.5 .5v2m.5 .5h1m0 1h1m0 1h1m0 1h1m.5 .5v2m.5 .5h1"/>
<path d="M579 360.5h2m0-1h2m0-1h2m0-1h2m0-1h1m0-1h2m0-1h2m0-1h1m0-1h2m0-1h2m0-1h1m0-1h1m0-1h2m0-1h1m0-1h1m0-1h1m0-1h1m0-1h2m0-1h1m0-1h1m0-1h1m0-1h1m0-1h1m0-1h1m0-1h2m0-1h1m0-1h1m0-1h1m0-1h1m0-1h1m0-1h1m0-1h1m0-1h1m0-1h1m0-1h1m0-1h1m0-1h1m0-1h1m0-1h1m0-1h1m0-1h1m0-1h1m0-1h1m0-1h1m0-1h1m0-1h1m0-1h1m0-1h1m.5-2.5v2m.5-2.5h1m0-1h1m0-1h1m.5-2.5v2m.5-2.5h1m0-1h1m0-1h1m0-1h1m.5-2.5v2m.5-2.5h1m0-1h1m.5-2.5v2m.5-2.5h1m0-1h1m0-1h1m.5-2.5v2m.5-2.5h1m0-1h1m.5-2.5v2m.5-2.5h1m0-1h1m.5-2.5v2m.5-2.5h1m.5-2.5v2m.5-2.5h1m.5-2.5v2m.5-2.5h1m.5-2.5v2m.5-2.5h1m0-1h1m.5-2.5v2m1-4v2m.5-2.5h1m.5-2.5v2m.5-2.5h1m.5-2.5v2m.5-2.5h1m.5-2.5v2m.5-2.5h1m.5-2.5v2m1-4v2m.5-2.5h1m.5-2.5v2m1-4v2m1-4v2"/>
<path d="M560 386.5h1m0 1h2m0 1h1m0 1h2m0 1h1m0 1h2m0 1h2m0 1h1m0 1h2m0 1h1m0 1h2m0 1h1m0 1h2m0 1h1m0 1h2m0 1h1m0 1h2m0 1h2m0 1h1m0 1h2m0 1h1m0 1h2m0 1h1m0 1h2m0 1h1m0 1h2m0 1h2m0 1h1m0 1h2m0 1h1m0 1h2m0 1h1m0 1h2m0 1h1m0 1h2m0 1h2m0 1h1m0 1h2m0 1h1m0 1h2m0 1h1m0 1h2m0 1h1m0 1h2m0 1h1m0 1h2m0 1h2m0 1h1m0 1h2m0 1h1m0 1h2m0 1h1m0 1h2m0 1h1m0 1h2m0 1h2m0 1h1m0 1h2m0 1h1m0 1h2m0 1h1m0 1h2m0 1h1m0 1h2m0 1h2m0 1h1m0 1h1m0 1h2"/>
<path d="M430 136.5h4m0-1h6m0-1h7m0-1h6m0-1h7m0-1h6m0-1h7m0-1h6m0-1h7m0-1h6"/>
<path d="M211 512.5h1m0-1h1m0-1h1m0-1h1m0-1h1m0-1h1m0-1h1m0-1h1m0-1h1m0-1h1m0-1h2m0-1h1m0-1h1m0-1h1m0-1h1m0-1h1m0-1h2m0-1h1m0-1h1m0-1h1m0-1h1m0-1h1m0-1h1m0-1h2m0-1h1m0-1h1m0-1h1m0-1h1m0-1h1m0-1h2m0-1h1m0-1h1m0-1h1m0-1h1m0-1h1m0-1h2m0-1h1m0-1h1m0-1h1m0-1h1m0-1h1m0-1h1m0-1h2m0-1h1m0-1h1m0-1h1m0-1h1m0-1h1m0-1h1m0-1h2m0-1h1m0-1h1m0-1h1m0-1h1m0-1h1m0-1h2m0-1h1m0-1h1m0-1h1m0-1h1m0-1h1m0-1h2m0-1h1m0-1h1m0-1h1m0-1h1m0-1h1m0-1h1m0-1h2m0-1h1m0-1h1m0-1h1m0-1h1m0-1h1m0-1h2m0-1h1m0-1h1m0-1h1m0-1h1m0-1h1m0-1h1m0-1h2m0-1h1m0-1h1m0-1h1m0-1h1m0-1h1m0-1h2m0-1h1m0-1h1m0-1h1m0-1h1m0-1h1m0-1h1m0-1h2m0-1h1m0-1h1m0-1h1m0-1h1m0-1h1m0-1h2m0-1h1m0-1h1m0-1h1m0-1h1m0-1h1m0-1h1m0-1h2m0-1h1m0-1h1m0-1h1m0-1h1m0-1h1m0-1h2m0-1h1m0-1h2"/>
<path d="M200 512.5h1m.5-2.5v2m1-4v2m1-4v2m1-4v2m1-4v2m1-4v2m1-4v2m1-4v2m1-4v2m1-4v2m1-4v2m.5-2.5h1m.5-2.5v2m1-4v2m1-4v2m1-4v2m1-4v2m1-4v2m.5-2.5h1m.5-2.5v2m1-4v2m1-4v2m.5-2.5h1m.5-2.5v2m1-4v2m1-4v2m1-4v2m.5-2.5h1m.5-2.5v2m1-4v2m.5-2.5h1m.5-2.5v2m1-4v2m.5-2.5h1m.5-2.5v2m1-4v2m.5-2.5h1m.5-2.5v2m1-4v2m.5-2.5h1m.5-2.5v2m.5-2.5h1m.5-2.5v2m1-4v2m.5-2.5h1m.5-2.5v2m.5-2.5h1m.5-2.5v2m.5-2.5h1m.5-2.5v2m.5-2.5h1m.5-2.5v2m.5-2.5h1m.5-2.5v2m.5-2.5h1m.5-2.5v2m.5-2.5h1m.5-2.5v2m.5-2.5h1m0-1h1m.5-2.5v2m.5-2.5h1m.5-2.5v2m.5-2.5h1m0-1h1m.5-2.5v2m.5-2.5h1m.5-2.5v2m.5-2.5h1m0-1h1m0-1h1m.5-2.5v2m.5-2.5h1m0-1h1m.5-2.5v2m.5-2.5h1m0-1h1m0-1h1m.5-2.5v2m.5-2.5h1m0-1h1m0-1h1m.5-2.5v2m.5-2.5h1m0-1h1m0-1h1m0-1h1m.5-2.5v2m.5-2.5h1m0-1h1m0-1h1m0-1h1m0-1h1m0-1h1m0-1h1m0-1h1m.5-2.5v2m.5-2.5h1m0-1h1m0-1h1m0-1h1m0-1h1m0-1h1m0-1h1m0-1h1m0-1h1m0-1h1m0-1h1m0-1h1m0-1h1m0-1h1m0-1h1m0-1h1m0-1h1m0-1h1m0-1h1m0-1h1m0-1h1m0-1h2m0-1h1m0-1h1m0-1h1m0-1h1m0-1h1m0-1h2m0-1h1m0-1h1m0-1h1m0-1h1m0-1h2m0-1h1m0-1h1m0-1h1m0-1h2m0-1h1m0-1h1m0-1h1m0-1h2m0-1h1m0-1h1m0-1h2m0-1h1m0-1h1m0-1h2m0-1h1m0-1h1m0-1h2m0-1h1m0-1h2m0-1h1m0-1h2m0-1h1m0-1h2m0-1h1m0-1h2m0-1h1m0-1h2m0-1h2m0-1h1m0-1h2m0-1h2m0-1h2m0-1h1m0-1h2m0-1h2m0-1h2m0-1h2m0-1h2m0-1h2m0-1h2m0-1h2m0-1h3m0-1h2m0-1h2m0-1h2m0-1h3m0-1h2m0-1h3m0-1h2m0-1h3m0-1h2m0-1h3m0-1h3m0-1h2m0-1h3m0-1h3m0-1h3m0-1h2m0-1h3m0-1h3m0-1h3m0-1h3m0-1h3m0-1h3m0-1h2m0-1h3m0-1h3m0-1h3m0-1h3m0-1h3m0-1h3m0-1h3m0-1h3m0-1h3m0-1h3m0-1h3m0-1h3m0-1h4m0-1h3m0-1h4m0-1h4m0-1h3m0-1h4m0-1h4m0-1h4m0-1h5m0-1h4m0-1h4m0-1h5m0-1h5m0-1h4m0-1h6m0-1h5m0-1h5m0-1h6m0-1h6m0-1h6m0-1h6m0-1h6m0-1h7m0-1h7m0-1h8m0-1h7m0-1h9m0-1h6"/>
<path d="M245 520.5h5m0-1h9m0-1h10m0-1h10m0-1h10m0-1h10m0-1h10m0-1h10m0-1h10m0-1h10m0-1h10m0-1h11m0-1h10m0-1h10m0-1h10m0-1h10m0-1h10m0-1h10m0-1h10m0-1h10m0-1h11m0-1h10m0-1h10m0-1h10m0-1h10m0-1h11m0-1h10m0-1h10m0-1h10m0-1h10m0-1h11m0-1h10m0-1h10m0-1h10m0-1h11m0-1h10m0-1h10m0-1h11m0-1h10"/>
<path d="M208 538.5h2m0 1h1m0 1h1m0 1h1m0 1h1m0 1h1m0 1h2m0 1h1m0 1h1m0 1h1m0 1h2m0 1h1m0 1h1m0 1h1m0 1h2m0 1h1m0 1h1m0 1h1m0 1h2m0 1h1m0 1h1m0 1h1m0 1h2m0 1h1m0 1h1m0 1h1m0 1h2m0 1h1m0 1h1m0 1h2m0 1h1m0 1h1m0 1h2m0 1h1m0 1h1m0 1h2m0 1h1m0 1h1m0 1h2m0 1h1m0 1h1m0 1h2m0 1h1m0 1h1m0 1h2m0 1h1m0 1h2m0 1h1m0 1h1m0 1h2m0 1h1m0 1h2m0 1h1m0 1h1m0 1h2m0 1h1m0 1h2m0 1h1m0 1h2m0 1h1m0 1h1m0 1h2m0 1h1m0 1h2m0 1h1m0 1h2m0 1h1m0 1h2m0 1h1m0 1h2m0 1h1m0 1h2m0 1h1m0 1h2m0 1h1m0 1h2m0 1h1m0 1h2m0 1h1m0 1h2m0 1h1m0 1h2m0 1h2m0 1h1m0 1h2m0 1h1m0 1h2m0 1h2m0 1h1m0 1h2m0 1h1m0 1h2m0 1h2m0 1h1m0 1h2m0 1h2m0 1h1m0 1h2m0 1h2m0 1h1m0 1h2m0 1h2m0 1h2m0 1h1m0 1h2m0 1h2m0 1h2m0 1h1m0 1h2m0 1h2m0 1h2m0 1h2m0 1h1m0 1h2m0 1h2m0 1h2m0 1h2m0 1h2m0 1h2m0 1h2m0 1h2m0 1h2m0 1h1m0 1h3m0 1h2m0 1h1m0 1h3m0 1h2m0 1h2m0 1h2m0 1h2m0 1h2m0 1h2m0 1h2m0 1h3m0 1h2m0 1h2m0 1h2m0 1h3m0 1h2m0 1h2m0 1h3m0 1h2m0 1h3m0 1h2m0 1h3m0 1h2m0 1h3m0 1h3m0 1h2m0 1h3m0 1h3m0 1h3m0 1h3m0 1h3m0 1h3m0 1h3m0 1h3m0 1h4m0 1h3m0 1h5m0 1h4m0 1h4m0 1h5m0 1h5m0 1h5m0 1h7m0 1h6m0 1h8m0 1h10m0 1h12m0 1h20m0 1h38m0-1h22m0-1h15"/>
<path d="M234 742.5h2m0-1h3m0-1h2m0-1h3m0-1h2m0-1h2m0-1h2m0-1h2m0-1h2m0-1h1m0-1h2m0-1h1m0-1h2m0-1h1m0-1h2m0-1h1m0-1h1m0-1h1m0-1h2m0-1h1m0-1h1m0-1h1m0-1h1m0-1h1m0-1h1m0-1h1m0-1h1m0-1h1m0-1h1m.5-2.5v2m.5-2.5h1m.5-2.5v2m.5-2.5h1m.5-2.5v2m.5-2.5h1m.5-2.5v2m.5-2.5h1m.5-2.5v2m1-4v2m1-4v2m1-4v2m1-4v2m1-4v2m1-4v2m1-4v2m1-4v2m1-4v2m1-4v2m1-4v2m1-4v2m1-4v2m1-4v2m1-4v2m1-4v2m.5-2.5h1m.5-2.5v2m.5-2.5h1m.5-2.5v2m.5-2.5h1m0-1h1m0-1h1m.5-2.5v2m.5-2.5h1m0-1h1m0-1h1m0-1h1m0-1h1m0-1h1m0-1h1m.5-2.5v2m.5-2.5h1m0-1h1m0-1h1m0-1h1m0-1h1m0-1h1m0-1h1m0-1h1m0-1h1m0-1h1m0-1h1m0-1h1m0-1h1m0-1h1m0-1h1m0-1h1m0-1h1m0-1h1m0-1h1m0-1h1m0-1h1m0-1h1m0-1h1m0-1h1m0-1h1m0-1h1m0-1h1m0-1h1m0-1h1m0-1h1m0-1h1m0-1h1m0-1h1m0-1h1m0-1h1m0-1h1m0-1h1m0-1h1m0-1h1m0-1h1m0-1h1m0-1h1m0-1h1m0-1h1m0-1h1m0-1h1m0-1h1m0-1h1m0-1h2m0-1h1m0-1h1m0-1h1m0-1h1m0-1h1m0-1h2m0-1h1m0-1h1m0-1h1m0-1h1m0-1h2m0-1h1m0-1h1m0-1h1m0-1h1m0-1h1m0-1h2m0-1h1m0-1h1m0-1h1m0-1h2m0-1h1m0-1h1m0-1h1m0-1h2m0-1h1m0-1h1m0-1h2m0-1h1m0-1h1m0-1h1m0-1h2m0-1h1m0-1h2m0-1h1m0-1h1m0-1h2m0-1h1m0-1h2m0-1h1m0-1h1m0-1h2m0-1h1m0-1h2m0-1h1m0-1h2m0-1h1m0-1h1m0-1h2m0-1h1m0-1h2m0-1h1m0-1h2m0-1h1m0-1h2m0-1h1m0-1h2m0-1h1m0-1h1m0-1h2m0-1h1m0-1h2m0-1h1m0-1h2m0-1h1m0-1h2m0-1h1m0-1h1m0-1h2m0-1h1m0-1h2m0-1h1m0-1h2m0-1h1m0-1h2m0-1h1m0-1h2m0-1h1m0-1h2m0-1h1m0-1h2m0-1h1m0-1h1m0-1h2m0-1h1m0-1h1m0-1h2m0-1h1m0-1h1m0-1h2m0-1h1m0-1h1m0-1h1m0-1h2m0-1h1m0-1h1m0-1h1m0-1h1m0-1h1m0-1h1m0-1h2m0-1h1m0-1h1m0-1h1m0-1h1m0-1h1m0-1h1m0-1h1m0-1h1m0-1h1m0-1h1m0-1h1m0-1h1m0-1h1m0-1h1m0-1h1m0-1h1m0-1h1m0-1h1m0-1h1m0-1h1m0-1h1m0-1h1m0-1h1m0-1h1m0-1h1m0-1h1m0-1h1m0-1h1m0-1h1m0-1h1m0-1h1m0-1h1m0-1h1m0-1h1m0-1h1m0-1h1m0-1h1m0-1h1m0-1h1m0-1h1m0-1h1m0-1h1m0-1h1m0-1h1m0-1h1m0-1h1m0-1h1m0-1h1m0-1h2m0-1h1m0-1h1m0-1h1m0-1h1m0-1h2m0-1h1m0-1h1m0-1h1m0-1h1m0-1h1m0-1h1m0-1h1m0-1h2m0-1h1m0-1h1m0-1h1m0-1h1m0-1h1m0-1h1m0-1h1m0-1h1m0-1h1m0-1h1m.5-2.5v2m.5-2.5h1m0-1h1m0-1h1m.5-2.5v2m.5-2.5h1m0-1h1m0-1h1m.5-2.5v2m.5-2.5h1m0-1h1m0-1h1m.5-2.5v2m.5-2.5h1m.5-2.5v2m.5-2.5h1m0-1h1m.5-2.5v2m.5-2.5h1m0-1h1m0-1h1m.5-2.5v2m.5-2.5h1m0-1h1m.5-2.5v2m.5-2.5h1m0-1h1m0-1h1m.5-2.5v2m.5-2.5h1m0-1h1m.5-2.5v2m.5-2.5h1m.5-2.5v2m.5-2.5h1m0-1h1m.5-2.5v2m.5-2.5h1m.5-2.5v2m.5-2.5h1m.5-2.5v2m.5-2.5h1m.5-2.5v2m.5-2.5h1m.5-2.5v2m.5-2.5h1m.5-2.5v2m.5-2.5h1m.5-2.5v2m.5-2.5h1m.5-2.5v2m.5-2.5h1m.5-2.5v2m1-4v2m.5-2.5h1m.5-2.5v2m1-4v2m.5-2.5h1m.5-2.5v2m.5-2.5h1m.5-2.5v2m1-4v2m.5-2.5h1m.5-2.5v2m1-4v2m1-4v2m.5-2.5h1m.5-2.5v2m1-4v2m1-4v2m.5-2.5h1m.5-2.5v2m1-4v2m1-4v2m1-4v2m.5-2.5h1m.5-2.5v2m1-4v2m1-4v2m1-4v2m1-4v2m1-4v2m1-4v2m.5-2.5h1m.5-2.5v2m1-4v2m1-4v2m1-4v2m1-4v2m1-4v2m1-4v2m1-4v2m1-4v2m1-5v3m1-5v2m1-4v2m1-4v2m1-4v2m1-4v2m1-4v2m1-4v2m1-5v3m1-5v2m1-4v2m1-4v2m1-5v3m1-5v2m1-4v2"/>
<path d="M234 739.5h1m0-1h3m0-1h2m0-1h3m0-1h2m0-1h3m0-1h2m0-1h3m0-1h2m0-1h2m0-1h3m0-1h2m0-1h2m0-1h2m0-1h2m0-1h2m0-1h2m0-1h2m0-1h2m0-1h2m0-1h3m0-1h2m0-1h2m0-1h2m0-1h2m0-1h2m0-1h2m0-1h2m0-1h2m0-1h2m0-1h2m0-1h2m0-1h2m0-1h2m0-1h2m0-1h2m0-1h2m0-1h2m0-1h2m0-1h2m0-1h2m0-1h2m0-1h2m0-1h1m0-1h2m0-1h2m0-1h2m0-1h2m0-1h2m0-1h2m0-1h2m0-1h2m0-1h2m0-1h2m0-1h2m0-1h2m0-1h1m0-1h2m0-1h2m0-1h2m0-1h2m0-1h2m0-1h2m0-1h2m0-1h1m0-1h2m0-1h2m0-1h2m0-1h2m0-1h2m0-1h2m0-1h1m0-1h2m0-1h2m0-1h2m0-1h2m0-1h2m0-1h1m0-1h2m0-1h2m0-1h2m0-1h2m0-1h1m0-1h2m0-1h2m0-1h2m0-1h2m0-1h1m0-1h2m0-1h2m0-1h2m0-1h2m0-1h1m0-1h2m0-1h2m0-1h2m0-1h1m0-1h2m0-1h2m0-1h2m0-1h1m0-1h2m0-1h2m0-1h2m0-1h2m0-1h1m0-1h2m0-1h2m0-1h2m0-1h1m0-1h2m0-1h2m0-1h2m0-1h1m0-1h2m0-1h2m0-1h1m0-1h2m0-1h2m0-1h2m0-1h1m0-1h2m0-1h2m0-1h2m0-1h1m0-1h2m0-1h2m0-1h1m0-1h2m0-1h2m0-1h2m0-1h1m0-1h2m0-1h2m0-1h1m0-1h2m0-1h2m0-1h1m0-1h2m0-1h2m0-1h1m0-1h2m0-1h2m0-1h1m0-1h2m0-1h2m0-1h1m0-1h2m0-1h2m0-1h2m0-1h1m0-1h2m0-1h1m0-1h2m0-1h2m0-1h1m0-1h2m0-1h2m0-1h1m0-1h2m0-1h2m0-1h1m0-1h2m0-1h2m0-1h1m0-1h2m0-1h2m0-1h1m0-1h2m0-1h2m0-1h1m0-1h2m0-1h1m0-1h2m0-1h2m0-1h1m0-1h2m0-1h1m0-1h2m0-1h2m0-1h1m0-1h2m0-1h2m0-1h1m0-1h2m0-1h1m0-1h2m0-1h2m0-1h1m0-1h2m0-1h2m0-1h1m0-1h2m0-1h1m0-1h2m0-1h1m0-1h2m0-1h2m0-1h1m0-1h2m0-1h1m0-1h2m0-1h2m0-1h1m0-1h2m0-1h1m0-1h2m0-1h1m0-1h2m0-1h2m0-1h1m0-1h2m0-1h1m0-1h2m0-1h1m0-1h2m0-1h2m0-1h1m0-1h2m0-1h1m0-1h2m0-1h1m0-1h2m0-1h2m0-1h1m0-1h2m0-1h1m0-1h2m0-1h1m0-1h2m0-1h1m0-1h2m0-1h1m0-1h2m0-1h1m0-1h2m0-1h1m0-1h2m0-1h2m0-1h1m0-1h2m0-1h1m0-1h2m0-1h2"/>
<path d="M233 752.5h81"/>
<path d="M414 764.5h1m0 1h3m0 1h3m0 1h3m0 1h3m0 1h4m0 1h3m0 1h3m0 1h4m0 1h3m0 1h3m0 1h3m0 1h3m0 1h4m0 1h3m0 1h3m0 1h3m0 1h4m0 1h3m0 1h3m0 1h3m0 1h4m0 1h3m0 1h3m0 1h3m0 1h3"/>
<path d="M559 789.5h1m0-1h1m0-1h2m0-1h2m0-1h1m0-1h2m0-1h1m0-1h2m0-1h2m0-1h1m0-1h2m0-1h2m0-1h1m0-1h2m0-1h1m0-1h2m0-1h2m0-1h1m0-1h2m0-1h2m0-1h1m0-1h2m0-1h2m0-1h1m0-1h2m0-1h1m0-1h2m0-1h2m0-1h1m0-1h2m0-1h1m0-1h2m0-1h2m0-1h1m0-1h2m0-1h2m0-1h1m0-1h2m0-1h1m0-1h2m0-1h2m0-1h1m0-1h2m0-1h2m0-1h1m0-1h2m0-1h1m0-1h2m0-1h2m0-1h1m0-1h2m0-1h1m0-1h2m0-1h2m0-1h1m0-1h2m0-1h1m0-1h2m0-1h2m0-1h1m0-1h2m0-1h1m0-1h2m0-1h1m0-1h2m0-1h2"/>
<path d="M507 795.5h2m-5-1h3m-6-1h3m-6-1h3m-5-1h2m-4-1h2m-4-1h2m-5-1h3m-4-1h1m-3-1h2m-3-1h1m-3-1h2m-3-1h1m-2-1h1m-2-1h1m-1.5-3.5v3m1-5v2m.5-2.5h1m0-1h1m0-1h2m0-1h2m0-1h3m0-1h3m0-1h5m0-1h6m0-1h8m0-1h10m0-1h35m0 1h9m0 1h6m0 1h4m0 1h4m0 1h4m0 1h3m0 1h3m0 1h2m0 1h2m0 1h1m0 1h1m0 1h1m.5 .5v4m-1.5 .5h1m-1.5 .5v2m-1.5 .5h1m-2 1h1m-2 1h1m-3 1h2m-4 1h2m-3 1h1m-4 1h3"/>
<path d="M571 807.5h1m0 1h7m0 1h6m0 1h6m0 1h6m0 1h6m0 1h6m0 1h6m0 1h6m0 1h6m0 1h6m0 1h6m0 1h6m0 1h6m0 1h4"/>
<path d="M234 803.5h78"/>
<path d="M417 803.5h78"/>
</g>
<g fill="#191970" stroke="#191970" stroke-width="1" shape-rendering="crispEdges">
<polygon points="178.3,295.1 189.1,286.0 186.3,299.8"/>
<polygon points="318.9,382.6 333.0,383.3 321.5,391.5"/>
<polygon points="177.8,549.1 188.6,540.0 185.8,553.8"/>
<polygon points="144.9,713.5 159.0,713.1 148.2,722.3"/>
<polygon points="142.1,756.9 156.0,759.3 143.6,766.1"/>
<polygon points="654.1,830.8 668.0,833.1 655.7,840.0"/>
<polygon points="143.6,789.5 156.0,796.3 142.1,798.7"/>
<polygon points="150.1,881.0 160.1,891.0 146.1,889.4"/>
<polygon points="141.9,934.5 152.0,944.4 137.9,943.0"/>
<polygon points="141.9,986.2 152.0,996.0 137.9,994.6"/>
<polygon points="338.5,349.2 347.6,360.0 333.8,357.3"/>
<polygon points="690.5,194.0 692.0,208.0 682.1,198.0"/>
<polygon points="694.7,447.0 693.1,461.0 685.6,449.0"/>
<polygon points="652.5,680.9 663.0,690.3 648.9,689.5"/>
<polygon points="325.0,106.8 339.0,105.2 329.0,115.2"/>
<polygon points="331.2,162.4 345.1,160.0 335.7,170.6"/>
<polygon points="465.7,368.7 479.0,373.4 465.7,378.1"/>
<polygon points="641.9,231.8 656.0,232.7 644.4,240.8"/>
<polygon points="641.7,452.5 653.0,461.0 638.9,461.5"/>
<polygon points="481.6,336.5 495.8,337.0 484.4,345.4"/>
<polygon points="680.2,675.7 685.1,689.0 673.0,681.7"/>
<polygon points="679.6,245.4 690.1,236.0 687.8,249.9"/>
<polygon points="667.5,449.8 676.1,461.0 662.4,457.6"/>
<polygon points="491.1,122.5 505.0,125.1 492.5,131.7"/>
<polygon points="347.4,400.5 354.6,388.0 341.3,393.5"/>
<polygon points="642.4,220.7 656.0,224.4 643.0,230.0"/>
<polygon points="634.3,477.4 648.0,480.7 635.2,486.7"/>
<polygon points="649.3,703.3 663.0,706.7 650.1,712.6"/>
<polygon points="682.3,246.6 691.7,236.0 691.0,250.1"/>
<polygon points="662.5,492.5 676.2,489.0 667.7,500.2"/>
<polygon points="313.7,747.4 327.0,752.1 313.7,756.7"/>
<polygon points="493.3,794.0 508.0,792.8 495.5,784.9"/>
<polygon points="662.1,720.3 675.8,717.0 667.1,728.2"/>
<polygon points="571.9,795.7 583.3,787.4 586.0,796.4"/>
<polygon points="655.6,816.9 668.0,823.6 654.1,826.1"/>
<polygon points="311.7,798.8 325.0,803.4 311.7,808.1"/>
<polygon points="494.7,798.8 508.0,803.4 494.7,808.1"/>
</g>
<g font-family="'DejaVu Sans', 'Liberation Sans', sans-serif" font-size="13.33" text-anchor="middle" fill="#000">
<text x="41.0" y="781">fdc_init</text>
<text x="193.5" y="276">devfs_makeNode</text>
<text x="370.5" y="99">sprintf</text>
<text x="369.5" y="149">vfs_findMount</text>
<text x="538.0" y="124">strcmp</text>
<text x="695.5" y="225">spinLock</text>
<text x="370.2" y="377">kmalloc</text>
<text x="537.5" y="327">insertFreeDesc</text>
<text x="538.5" y="377">getEmptyDesc</text>
<text x="695.9" y="479">spinUnlock</text>
<text x="194.2" y="529">device_add</text>
<text x="695.0" y="707">kprintf</text>
<text x="194.5" y="705">fdcInit2</text>
<text x="194.0" y="756">fdcRead</text>
<text x="370.5" y="756">readBlock</text>
<text x="194.5" y="807">fdcWrite</text>
<text x="370.0" y="807">writeBlock</text>
<text x="538.5" y="807">fdcRw</text>
<text x="695.7" y="832">reset</text>
<text x="194.5" y="908">floppyIsr</text>
<text x="193.3" y="959">irqEnable</text>
<text x="195.0" y="1009">setVector</text>
</g>
</svg>
</body></html>
